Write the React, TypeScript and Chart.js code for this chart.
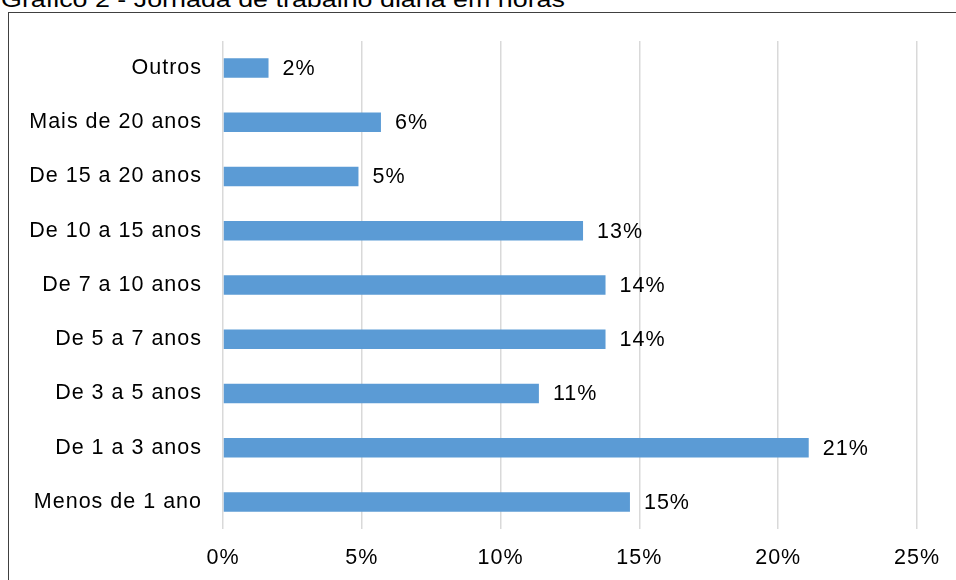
import React, { useEffect, useRef } from "react";
import { Chart, registerables } from "chart.js";

Chart.register(...registerables);

const TITLE = "Gráfico 2 - Jornada de trabalho diária em horas";
const categories = [
  "Outros",
  "Mais de 20 anos",
  "De 15 a 20 anos",
  "De 10 a 15 anos",
  "De 7 a 10 anos",
  "De 5 a 7 anos",
  "De 3 a 5 anos",
  "De 1 a 3 anos",
  "Menos de 1 ano",
];
const values = [1.64, 5.69, 4.88, 12.97, 13.78, 13.78, 11.38, 21.1, 14.66];
const valueLabels = ["2%", "6%", "5%", "13%", "14%", "14%", "11%", "21%", "15%"];
const xTicks = [0, 5, 10, 15, 20, 25];

const FONT_FAMILY = "'Liberation Sans', Arial, sans-serif";
const FONT_SIZE = 21.5;
const LETTER_SPACING = "1px";
const BAR_COLOR = "#5B9BD5";
const TEXT_COLOR = "#000000";

const spacingPlugin = {
  id: "letterSpacing",
  beforeLayout(chart: any) {
    (chart.ctx as any).letterSpacing = LETTER_SPACING;
  },
  beforeDraw(chart: any) {
    (chart.ctx as any).letterSpacing = LETTER_SPACING;
  },
};

const valueLabelPlugin = {
  id: "valueLabels",
  afterDatasetsDraw(chart: any) {
    const ctx = chart.ctx;
    const meta = chart.getDatasetMeta(0);
    ctx.save();
    (ctx as any).letterSpacing = LETTER_SPACING;
    ctx.font = `${FONT_SIZE}px ${FONT_FAMILY}`;
    ctx.fillStyle = TEXT_COLOR;
    ctx.textAlign = "left";
    ctx.textBaseline = "middle";
    meta.data.forEach((bar: any, i: number) => {
      ctx.fillText(valueLabels[i], bar.x + 14, bar.y + 1);
    });
    ctx.restore();
  },
};

export default function App() {
  const canvasRef = useRef<HTMLCanvasElement | null>(null);

  useEffect(() => {
    document.body.style.margin = "0";
    const canvas = canvasRef.current;
    if (!canvas) return;
    const chart = new Chart(canvas, {
      type: "bar",
      data: {
        labels: categories,
        datasets: [
          {
            data: values,
            backgroundColor: BAR_COLOR,
            borderWidth: 0,
            barPercentage: 0.36,
            categoryPercentage: 1,
          },
        ],
      },
      options: {
        indexAxis: "y",
        animation: false,
        responsive: false,
        devicePixelRatio: 1,
        layout: { padding: { top: 41, right: 39, bottom: 0, left: 0 } },
        plugins: {
          legend: { display: false },
          title: { display: false },
          tooltip: { enabled: false },
        },
        scales: {
          x: {
            min: 0,
            max: 25,
            afterBuildTicks(scale: any) {
              scale.ticks = xTicks.map((v) => ({ value: v }));
            },
            afterFit(scale: any) {
              scale.height = 51;
            },
            ticks: {
              callback: (v: any) => `${v}%`,
              color: TEXT_COLOR,
              font: { family: FONT_FAMILY, size: FONT_SIZE },
              padding: 16,
              maxRotation: 0,
            },
            grid: { color: "#d9d9d9", lineWidth: 1.5, drawTicks: false },
            border: { display: false },
          },
          y: {
            afterFit(scale: any) {
              scale.width = 223;
            },
            ticks: {
              color: TEXT_COLOR,
              font: { family: FONT_FAMILY, size: FONT_SIZE },
              padding: 21,
            },
            grid: { display: false, drawTicks: false },
            border: { display: false },
          },
        },
      },
      plugins: [spacingPlugin, valueLabelPlugin],
    } as any);
    return () => chart.destroy();
  }, []);

  return (
    <div
      style={{
        position: "fixed",
        left: 0,
        top: 0,
        width: 956,
        height: 580,
        overflow: "hidden",
        background: "#ffffff",
      }}
    >
      <div
        style={{
          position: "absolute",
          left: 1,
          top: -11,
          fontFamily: FONT_FAMILY,
          fontSize: 22,
          lineHeight: "22px",
          color: TEXT_COLOR,
          whiteSpace: "nowrap",
          transform: "scaleX(1.22)",
          transformOrigin: "left top",
        }}
      >
        {TITLE}
      </div>
      <div
        style={{
          position: "absolute",
          left: 8,
          top: 12,
          width: 1000,
          height: 620,
          border: "1px solid #404040",
          boxSizing: "border-box",
        }}
      />
      <canvas
        ref={canvasRef}
        width={956}
        height={580}
        style={{ position: "absolute", left: 0, top: 0, width: 956, height: 580 }}
      />
    </div>
  );
}
